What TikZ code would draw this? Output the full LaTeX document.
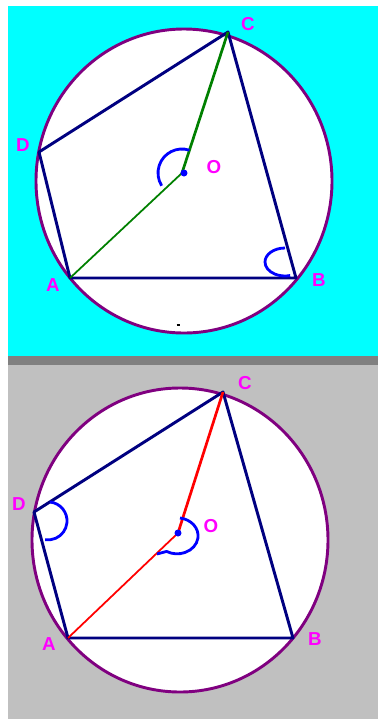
\documentclass[tikz,border=0pt]{standalone}
\usepackage{fontspec}
\setsansfont{Liberation Sans}
\usetikzlibrary{calc}

\definecolor{panelcyan}{HTML}{00FFFF}
\definecolor{panelgray}{HTML}{C0C0C0}
\definecolor{sepgray}{HTML}{808080}
\definecolor{rimpurple}{HTML}{800080}
\definecolor{sidenavy}{HTML}{000080}
\definecolor{spokegreen}{HTML}{008000}
\definecolor{spokered}{HTML}{FF0000}
\definecolor{markblue}{HTML}{0000FF}
\definecolor{lblmagenta}{HTML}{FF00FF}

\begin{document}
\begin{tikzpicture}[
  x=0.03cm, y=-0.03cm,
  rim/.style={draw=rimpurple, line width=2.5pt, fill=white},
  side/.style={draw=sidenavy, line width=2.5pt, line join=round},
  spoke/.style={line width=2.3pt},
  thinspoke/.style={line width=1.5pt},
  angmark/.style={draw=markblue, line width=2.4pt},
  centerdot/.style={fill=markblue},
  lbl/.style={text=lblmagenta, font=\fontsize{16}{16}\selectfont\sffamily\bfseries, inner sep=0pt}
]
\useasboundingbox (0,0) rectangle (378,719);

% ---- panels ----
\fill[panelcyan] (8,6) rectangle (378,356);
\fill[sepgray] (8,356) rectangle (378,365);
\fill[panelgray] (8,365) rectangle (378,719);

% ---- top figure ----
\coordinate (tM) at (184,181);
\coordinate (tO) at (182,173);
\coordinate (tA) at (70,278);
\coordinate (tB) at (296,278);
\coordinate (tC) at (228,32);
\coordinate (tD) at (39,152);
\draw[rim] (tM) ellipse [x radius=148, y radius=152];
\draw[side] (tA) -- (tB) -- (tC) -- (tD) -- cycle;
\draw[spoke, spokegreen] (tO) -- (tC);
\draw[thinspoke, spokegreen] (tO) -- (tA);
\draw[angmark] ([shift={(-72:24)}]tO) arc[start angle=-72, end angle=-212, radius=24];
\draw[angmark] ($(tB)+(-11,-30)$) arc[start angle=-90, end angle=-285, x radius=20, y radius=14];
\fill[centerdot] ($(tO)+(2,0)$) circle[radius=3.5];
\draw[line width=0.9pt] (176.5,325) -- (179.5,325);

\node[lbl] (tlC) at (248,24) {C};
\node[lbl] (tlD) at (23,145) {D};
\node[lbl] (tlO) at (214,167) {O};
\node[lbl] (tlA) at (53,285) {A};
\node[lbl] (tlB) at (319,280) {B};

% ---- bottom figure ----
\coordinate (bM) at (180,540);
\coordinate (bO) at (178,533);
\coordinate (bA) at (68,638);
\coordinate (bB) at (293,638);
\coordinate (bC) at (223,392);
\coordinate (bD) at (34,512);
\draw[rim] (bM) ellipse [x radius=148, y radius=152];
\draw[side] (bA) -- (bB) -- (bC) -- (bD) -- cycle;
\draw[spoke, spokered] (bO) -- (bC);
\draw[thinspoke, spokered] (bO) -- (bA);
\draw[angmark] ($(bD)+(16,-10)$) arc[start angle=-84, end angle=99, radius=19];
\draw[angmark, line join=round] ($(bO)+(2,-15)$) arc[start angle=-82, end angle=120, x radius=21, y radius=18]
  -- ($(bO)+(-21,21)$);
\fill[centerdot] (bO) circle[radius=3.5];

\node[lbl] (blC) at (245,383) {C};
\node[lbl] (blD) at (19,504) {D};
\node[lbl] (blO) at (211,526) {O};
\node[lbl] (blA) at (49,644) {A};
\node[lbl] (blB) at (315,639) {B};
\end{tikzpicture}
\end{document}
